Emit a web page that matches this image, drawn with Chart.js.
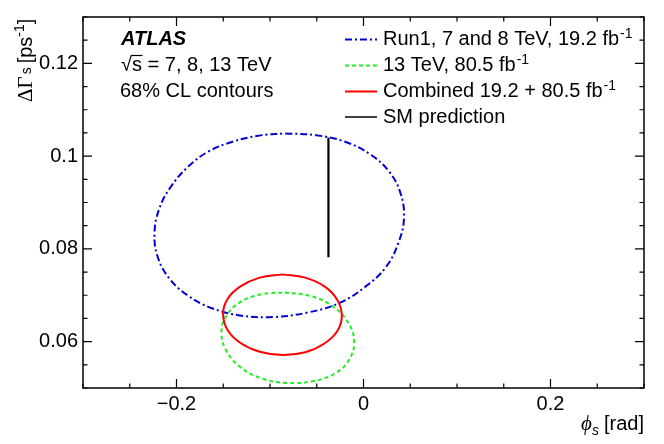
<!DOCTYPE html>
<html>
<head>
<meta charset="utf-8">
<script src="https://cdn.jsdelivr.net/npm/chart.js@4.4.1/dist/chart.umd.min.js"></script>
<style>
  html, body { margin: 0; padding: 0; background: #fff; }
  canvas { display: block; }
</style>
</head>
<body>
<canvas id="contours" width="664" height="444"></canvas>
<script>
// Contour points (phi_s in rad, DeltaGamma_s in ps^-1)
const run1Phi = [-0.0837, -0.0506, -0.0196, 0.0070, 0.0273, 0.0396, 0.0433, 0.0375, 0.0241, 0.0017, -0.0250, -0.0591, -0.0965, -0.1306, -0.1621, -0.1883, -0.2080, -0.2203, -0.2235, -0.2187, -0.2064, -0.1872, -0.1658, -0.1402, -0.1125, -0.0837]
const run1Gamma = [0.1049, 0.1045, 0.1031, 0.1004, 0.0967, 0.0920, 0.0866, 0.0814, 0.0761, 0.0718, 0.0684, 0.0663, 0.0653, 0.0656, 0.0672, 0.0700, 0.0737, 0.0784, 0.0834, 0.0885, 0.0933, 0.0978, 0.1010, 0.1031, 0.1044, 0.1049]

const run2Phi = [-0.0842, -0.0559, -0.0335, -0.0170, -0.0100, -0.0148, -0.0292, -0.0533, -0.0815, -0.1093, -0.1322, -0.1466, -0.1520, -0.1469, -0.1319, -0.1093, -0.0842]
const run2Gamma = [0.0706, 0.0698, 0.0677, 0.0643, 0.0602, 0.0563, 0.0533, 0.0515, 0.0511, 0.0521, 0.0546, 0.0580, 0.0618, 0.0655, 0.0685, 0.0702, 0.0706]

const combPhi = [-0.0867, -0.0624, -0.0418, -0.0280, -0.0232, -0.0280, -0.0418, -0.0624, -0.0867, -0.1110, -0.1316, -0.1454, -0.1502, -0.1454, -0.1316, -0.1110, -0.0867]
const combGamma = [0.0745, 0.0738, 0.0719, 0.0690, 0.0656, 0.0623, 0.0596, 0.0577, 0.0571, 0.0578, 0.0597, 0.0625, 0.0660, 0.0692, 0.0719, 0.0738, 0.0745]

const smPhi = [-0.0375, -0.0375]
const smGamma = [0.0782, 0.1040]

const xTickValues = [-0.2, 0, 0.2]
const xTickLabels = ['\u22120.2', '0', '0.2']
const yTickValues = [0.06, 0.08, 0.1, 0.12]
const yTickLabels = ['0.06', '0.08', '0.1', '0.12']

const FONT = "'Liberation Sans', Arial, Helvetica, sans-serif"
const SERIF = "'Liberation Serif', 'Times New Roman', serif"

function toPoints(xs, ys) {
    return xs.map((x, i) => ({ x: x, y: ys[i] }))
}

// draws a list of text pieces one after another (sub/superscripts via size and dy)
function drawRich(ctx, parts, x, y, align) {
    const fontOf = p => (p.style || '') + ' ' + (p.size || 20) + 'px ' + (p.family || FONT)
    let total = 0
    parts.forEach(p => {
        ctx.font = fontOf(p)
        total += ctx.measureText(p.text).width + (p.gap || 0)
    })
    let cx = align == 'right' ? x - total : x
    parts.forEach(p => {
        ctx.font = fontOf(p)
        ctx.fillText(p.text, cx, y + (p.dy || 0))
        cx += ctx.measureText(p.text).width + (p.gap || 0)
    })
}

const legendRows = [
    { color: '#0000d0', dash: [7, 3, 2, 3], parts: [{ text: 'Run1, 7 and 8 TeV, 19.2 fb', gap: 1 }, { text: '-1', size: 14, dy: -7 }] },
    { color: '#22ee22', dash: [4, 3], parts: [{ text: '13 TeV, 80.5 fb', gap: 1 }, { text: '-1', size: 14, dy: -7 }] },
    { color: '#ff0000', dash: [], parts: [{ text: 'Combined 19.2 + 80.5 fb', gap: 1 }, { text: '-1', size: 14, dy: -7 }] },
    { color: '#000000', dash: [], parts: [{ text: 'SM prediction' }] }
]
const rowBaselines = [45, 71, 97, 122.5]

const atlasOverlay = {
    id: 'atlasOverlay',
    afterDraw(chart) {
        const ctx = chart.ctx
        const a = chart.chartArea
        const xs = chart.scales.x
        const ys = chart.scales.y
        ctx.save()

        // frame
        ctx.strokeStyle = '#000'
        ctx.lineWidth = 1.5
        ctx.setLineDash([])
        ctx.strokeRect(a.left, a.top, a.right - a.left, a.bottom - a.top)

        // inward ticks on all four sides
        ctx.lineWidth = 1.2
        ctx.beginPath()
        for (let i = -6; i <= 6; i++) {
            const v = i * 0.05
            const major = xTickValues.some(t => Math.abs(t - v) < 1e-6)
            const len = major ? 9 : 4.5
            const px = xs.getPixelForValue(v)
            ctx.moveTo(px, a.bottom); ctx.lineTo(px, a.bottom - len)
            ctx.moveTo(px, a.top); ctx.lineTo(px, a.top + len)
        }
        for (let i = 10; i <= 26; i++) {
            const v = i * 0.005
            const major = yTickValues.some(t => Math.abs(t - v) < 1e-6)
            const len = major ? 9 : 4.5
            const py = ys.getPixelForValue(v)
            ctx.moveTo(a.left, py); ctx.lineTo(a.left + len, py)
            ctx.moveTo(a.right, py); ctx.lineTo(a.right - len, py)
        }
        ctx.stroke()

        ctx.fillStyle = '#000'
        ctx.textBaseline = 'alphabetic'
        ctx.textAlign = 'left'

        // labels at top left
        ctx.font = 'italic bold 20px ' + FONT
        ctx.fillText('ATLAS', 121, rowBaselines[0])
        ctx.font = '20px ' + FONT
        ctx.fillText('\u221As = 7, 8, 13 TeV', 121, rowBaselines[1])
        const wRoot = ctx.measureText('\u221A').width
        const wS = ctx.measureText('s').width
        ctx.lineWidth = 1.2
        ctx.beginPath()
        ctx.moveTo(121 + wRoot - 1, rowBaselines[1] - 15.5)
        ctx.lineTo(121 + wRoot + wS + 0.5, rowBaselines[1] - 15.5)
        ctx.stroke()
        ctx.fillText('68% CL contours', 120, rowBaselines[2])

        // legend
        legendRows.forEach((row, i) => {
            const y = rowBaselines[i] - 5.5
            ctx.strokeStyle = row.color
            ctx.lineWidth = row.color == '#000000' ? 1.5 : 2
            ctx.setLineDash(row.dash)
            ctx.beginPath()
            ctx.moveTo(345, y); ctx.lineTo(377, y)
            ctx.stroke()
            ctx.setLineDash([])
            drawRich(ctx, row.parts, 383, rowBaselines[i], 'left')
        })

        // axis titles
        drawRich(ctx, [
            { text: '\u03D5', style: 'italic', family: SERIF, size: 21 },
            { text: 's', size: 14, dy: 5, style: 'italic', gap: 5 },
            { text: '[rad]' }
        ], 644, 430, 'right')

        ctx.save()
        ctx.translate(31.5, 102)
        ctx.rotate(-Math.PI / 2)
        drawRich(ctx, [
            { text: '\u0394\u0393', family: SERIF, size: 21, gap: 2 },
            { text: 's', size: 14, dy: -1, gap: 4 },
            { text: '[ps' },
            { text: '-1', size: 14, dy: -8 },
            { text: ']' }
        ], 0, 0, 'left')
        ctx.restore()

        ctx.restore()
    }
}

const contourConfig = {
    type: 'scatter',
    data: {
        datasets: [
            {
                label: 'SM prediction',
                data: toPoints(smPhi, smGamma),
                showLine: true,
                borderColor: '#000000',
                borderWidth: 2.2,
                pointRadius: 0
            },
            {
                label: 'Combined 19.2 + 80.5 fb-1',
                data: toPoints(combPhi, combGamma),
                showLine: true,
                borderColor: '#ff0000',
                borderWidth: 2,
                pointRadius: 0,
                tension: 0.4
            },
            {
                label: '13 TeV, 80.5 fb-1',
                data: toPoints(run2Phi, run2Gamma),
                showLine: true,
                borderColor: '#22ee22',
                borderWidth: 2,
                borderDash: [4, 3],
                pointRadius: 0,
                tension: 0.4
            },
            {
                label: 'Run1, 7 and 8 TeV, 19.2 fb-1',
                data: toPoints(run1Phi, run1Gamma),
                showLine: true,
                borderColor: '#0000d0',
                borderWidth: 2,
                borderDash: [7, 3, 2, 3],
                pointRadius: 0,
                tension: 0.4
            }
        ]
    },
    options: {
        responsive: false,
        animation: false,
        events: [],
        layout: { padding: { top: 14, right: 20, left: 0, bottom: 0 } },
        plugins: {
            legend: { display: false },
            tooltip: { enabled: false }
        },
        scales: {
            x: {
                type: 'linear',
                min: -0.3,
                max: 0.3,
                afterFit: s => { s.height = 56 },
                afterBuildTicks: s => { s.ticks = xTickValues.map(v => ({ value: v })) },
                ticks: {
                    callback: (v, i) => xTickLabels[i],
                    color: '#000',
                    padding: 4,
                    maxRotation: 0,
                    autoSkip: false,
                    font: { family: FONT, size: 20 }
                },
                grid: { display: false, drawTicks: false },
                border: { display: false }
            },
            y: {
                type: 'linear',
                min: 0.05,
                max: 0.13,
                afterFit: s => { s.width = 83 },
                afterBuildTicks: s => { s.ticks = yTickValues.map(v => ({ value: v })) },
                ticks: {
                    callback: (v, i) => yTickLabels[i],
                    color: '#000',
                    padding: 5,
                    autoSkip: false,
                    font: { family: FONT, size: 20 }
                },
                grid: { display: false, drawTicks: false },
                border: { display: false }
            }
        }
    },
    plugins: [atlasOverlay]
}

const ctxContours = document.getElementById('contours').getContext('2d')
new Chart(ctxContours, contourConfig)
</script>
</body>
</html>
